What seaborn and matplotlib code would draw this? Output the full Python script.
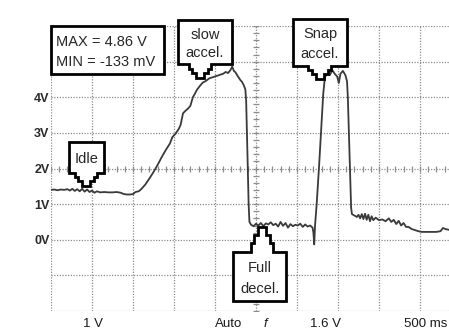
import numpy as np
import matplotlib
matplotlib.use("Agg")
import matplotlib.pyplot as plt
from matplotlib.patches import Polygon
import seaborn as sns

# trace (time in s, signal in V)
time_s = [0.00, 0.04, 0.08, 0.12, 0.16, 0.20, 0.23, 0.26, 0.29, 0.32, 0.35, 0.38,
          0.41, 0.44, 0.47, 0.50, 0.53, 0.56, 0.60, 0.65, 0.70, 0.75, 0.80, 0.85,
          0.88, 0.92, 0.96, 1.00, 1.03, 1.07, 1.10, 1.15, 1.20, 1.25, 1.30, 1.35,
          1.40, 1.45, 1.48, 1.52, 1.56, 1.58, 1.61, 1.64, 1.67, 1.70, 1.73, 1.75,
          1.78, 1.82, 1.85, 1.89, 1.93, 1.97, 2.02, 2.06, 2.10, 2.13, 2.16, 2.19,
          2.21, 2.23, 2.25, 2.27, 2.29, 2.31, 2.33, 2.35, 2.37, 2.38, 2.39, 2.40,
          2.41, 2.42, 2.44, 2.47, 2.50, 2.53, 2.56, 2.59, 2.62, 2.65, 2.68, 2.71,
          2.74, 2.77, 2.80, 2.83, 2.86, 2.89, 2.92, 2.95, 2.98, 3.01, 3.04, 3.07,
          3.10, 3.13, 3.16, 3.19, 3.20, 3.21, 3.22, 3.24, 3.27, 3.30, 3.32, 3.34,
          3.37, 3.40, 3.43, 3.46, 3.49, 3.51, 3.53, 3.56, 3.59, 3.61, 3.62, 3.63,
          3.64, 3.65, 3.66, 3.67, 3.70, 3.73, 3.75, 3.77, 3.79, 3.81, 3.83, 3.85,
          3.87, 3.89, 3.91, 3.93, 3.96, 4.00, 4.04, 4.08, 4.12, 4.15, 4.18, 4.21,
          4.24, 4.27, 4.30, 4.33, 4.36, 4.40, 4.44, 4.48, 4.52, 4.58, 4.64, 4.70,
          4.75, 4.78, 4.81, 4.85, 4.90]
volts = [1.40, 1.41, 1.39, 1.41, 1.40, 1.42, 1.38, 1.43, 1.37, 1.42, 1.36, 1.43,
         1.35, 1.41, 1.34, 1.38, 1.32, 1.36, 1.33, 1.34, 1.33, 1.33, 1.34, 1.32,
         1.29, 1.27, 1.27, 1.28, 1.34, 1.36, 1.42, 1.55, 1.72, 1.90, 2.10, 2.32,
         2.52, 2.70, 2.88, 2.98, 3.12, 3.22, 3.55, 3.62, 3.68, 3.76, 4.00, 4.08,
         4.21, 4.33, 4.41, 4.46, 4.53, 4.56, 4.60, 4.63, 4.66, 4.71, 4.68, 4.77,
         4.86, 4.74, 4.70, 4.62, 4.55, 4.48, 4.43, 4.34, 4.22, 3.90, 3.00, 2.00,
         1.00, 0.50, 0.42, 0.38, 0.45, 0.40, 0.47, 0.38, 0.46, 0.43, 0.49, 0.41,
         0.45, 0.37, 0.50, 0.39, 0.47, 0.34, 0.44, 0.38, 0.42, 0.40, 0.45, 0.36,
         0.43, 0.37, 0.40, 0.34, 0.20, -0.13, 0.40, 1.00, 2.10, 3.30, 4.10, 4.55,
         4.70, 4.62, 4.76, 4.66, 4.58, 4.40, 4.66, 4.74, 4.62, 4.45, 4.00, 3.20,
         2.40, 1.60, 0.90, 0.72, 0.68, 0.64, 0.70, 0.60, 0.72, 0.58, 0.73, 0.56,
         0.70, 0.52, 0.66, 0.55, 0.62, 0.55, 0.57, 0.52, 0.60, 0.50, 0.56, 0.44,
         0.53, 0.40, 0.47, 0.36, 0.36, 0.30, 0.27, 0.24, 0.22, 0.22, 0.22, 0.22,
         0.24, 0.33, 0.30, 0.28, 0.27]

volt_ticks = [-2, -1, 0, 1, 2, 3, 4, 5, 6]
volt_labels = ["", "", "0V", "1V", "2V", "3V", "4V", "", ""]
status_texts = ["1 V", "Auto", "f", "1.6 V", "500 ms"]

sns.set_style("white")
plt.rcParams["font.family"] = ["Liberation Sans", "DejaVu Sans"]

fig = plt.figure(figsize=(4.49, 3.33), dpi=100)
# screen is 10 divisions wide, the right edge falls outside the picture
ax = fig.add_axes([51 / 449, 22 / 333, 410 / 449, 285 / 333])

grid_col = "#8c8c8c"
ax.set_xlim(0, 5)
ax.set_ylim(-2, 6)
ax.set_xticks(np.arange(0, 5.01, 0.5))
ax.set_yticks(volt_ticks)
ax.set_yticklabels(volt_labels, fontsize=9, fontweight="bold", color="#2a2a2a")
ax.set_xticklabels([])
ax.tick_params(length=0, pad=1)
ax.grid(True, color=grid_col, linestyle=(0, (1, 1.2)), linewidth=0.9)
ax.set_axisbelow(True)
for s in ax.spines.values():
    s.set_visible(False)

# small ticks on the centre graticule lines
ax.plot(np.arange(0, 5.01, 0.1), [2] * 51, ls="none", marker="|", ms=5,
        mew=0.9, color=grid_col, zorder=0.5)
ax.plot([2.5] * 41, np.arange(-2, 6.01, 0.2), ls="none", marker="_", ms=5,
        mew=0.9, color=grid_col, zorder=0.5)

sns.lineplot(x=time_s, y=volts, ax=ax, estimator=None, sort=False,
             color="#3a3a3a", linewidth=1.3, zorder=3)
ax.set_xlabel("")
ax.set_ylabel("")


def callout(t0, t1, v0, v1, lines, tip=None, up=False, align="center"):
    # box with a stepped pointer, like the scope software draws them
    pts = [(t0, v1), (t1, v1), (t1, v0)]
    if tip is not None:
        cx, tv = tip
        hw = 0.14
        n = 3
        edge = v1 if up else v0
        dv = (tv - edge) / n
        left = []
        for i in range(n):
            w = hw * (1 - i / n)
            left.append((cx - w, edge + dv * i))
            left.append((cx - w, edge + dv * (i + 1)))
        right = [(2 * cx - x, y) for x, y in left]
        peak = [(cx, tv)]
        if up:
            pts = [(t0, v1)] + left + peak + right[::-1] + [(t1, v1), (t1, v0), (t0, v0)]
        else:
            pts = [(t0, v1), (t1, v1), (t1, v0)] + right + peak + left[::-1] + [(t0, v0)]
    else:
        pts = pts + [(t0, v0)]
    ax.add_patch(Polygon(pts, closed=True, facecolor="white", edgecolor="black",
                         linewidth=2, zorder=5, clip_on=False, joinstyle="miter"))
    n_l = len(lines)
    for k, txt in enumerate(lines):
        if n_l == 1:
            y = (v0 + v1) / 2
        else:
            y = v1 - (v1 - v0) * (0.3 + 0.42 * k)
        if align == "left":
            ax.text(t0 + 0.06, y, txt, ha="left", va="center_baseline", fontsize=10.5,
                    zorder=6, clip_on=False)
        else:
            ax.text((t0 + t1) / 2, y, txt, ha="center", va="center_baseline",
                    fontsize=10.5, zorder=6, clip_on=False)


callout(0.0, 1.378, 4.66, 6.0, ["MAX = 4.86 V", "MIN = -133 mV"], align="left")
callout(1.549, 2.207, 4.92, 6.18, ["slow", "accel."], tip=(1.817, 4.55))
callout(2.951, 3.610, 4.89, 6.21, ["Snap", "accel."], tip=(3.28, 4.52))
callout(0.22, 0.646, 1.88, 2.75, ["Idle"], tip=(0.427, 1.52))
callout(2.22, 2.866, -1.71, -0.34, ["Full", "decel."], tip=(2.573, 0.37), up=True)

# status line under the screen
status_x = [93, 229, 265, 326, 404]
for x, txt in zip(status_x, status_texts):
    fig.text(x / 449, 9 / 333, txt, ha="left" if txt.startswith("500") else "center",
             va="center", fontsize=9.5,
             style="italic" if txt == "f" else "normal", color="#1a1a1a")

fig.savefig("out.png", dpi=100)
